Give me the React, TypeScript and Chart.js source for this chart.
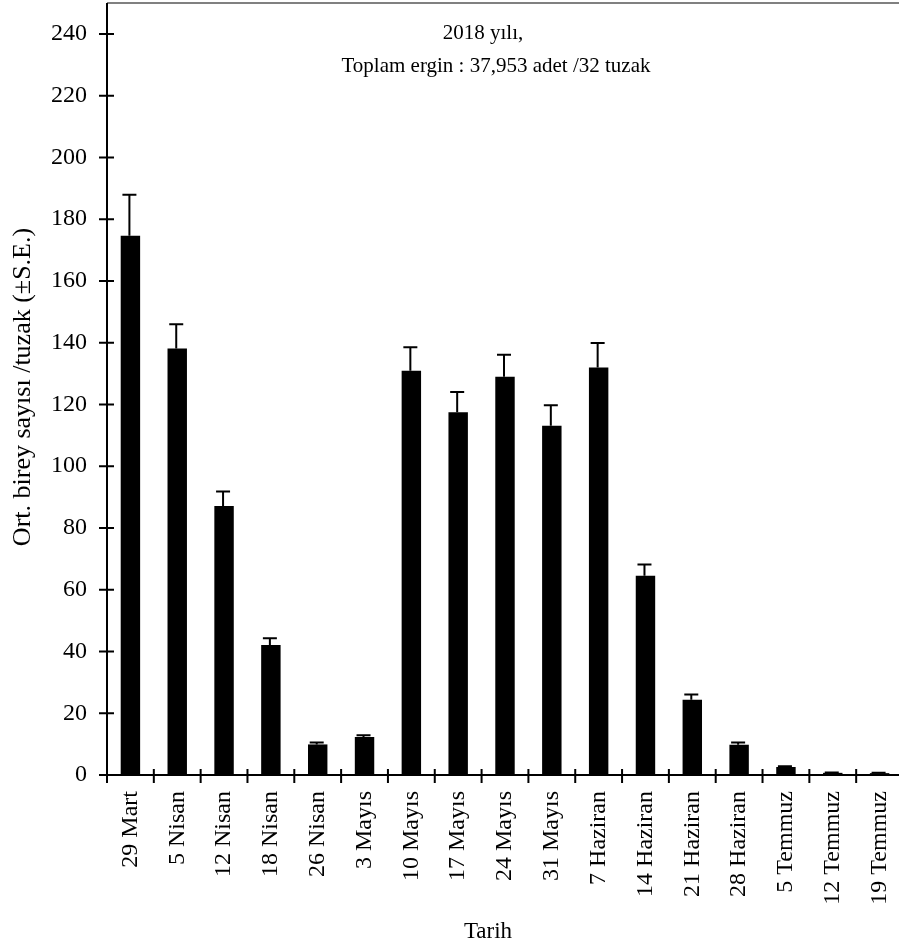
import React, { useEffect, useRef } from 'react';
import { Chart, registerables } from 'chart.js';

Chart.register(...registerables);

const dates = ['29 Mart', '5 Nisan', '12 Nisan', '18 Nisan', '26 Nisan', '3 Mayıs', '10 Mayıs', '17 Mayıs', '24 Mayıs', '31 Mayıs', '7 Haziran', '14 Haziran', '21 Haziran', '28 Haziran', '5 Temmuz', '12 Temmuz', '19 Temmuz'];
const means = [174.6, 138.1, 87.1, 42.1, 9.9, 12.3, 130.9, 117.5, 129.0, 113.1, 132.0, 64.5, 24.4, 9.8, 2.6, 0.7, 0.6];
const standardErrors = [13.3, 7.9, 4.7, 2.2, 0.6, 0.6, 7.6, 6.5, 7.1, 6.6, 7.9, 3.7, 1.7, 0.7, 0.2, 0.1, 0.1];
const yTickValues = [0, 20, 40, 60, 80, 100, 120, 140, 160, 180, 200, 220, 240];
const titleLines = ['2018 yılı,', 'Toplam ergin : 37,953 adet /32 tuzak'];
const yAxisTitle = 'Ort. birey sayısı /tuzak (±S.E.)';
const xAxisTitle = 'Tarih';

const FONT = "'Liberation Serif', 'Times New Roman', serif";

const decorPlugin = {
  id: 'decor',
  afterDatasetsDraw(chart: any) {
    const { ctx, chartArea } = chart;
    const xs = chart.scales.x;
    const ys = chart.scales.y;
    const { left, right, top, bottom } = chartArea;
    ctx.save();
    // error bars
    ctx.strokeStyle = '#000';
    ctx.lineWidth = 2;
    const meta = chart.getDatasetMeta(0);
    meta.data.forEach((bar: any, i: number) => {
      const xc = bar.x - 1;
      const yTop = ys.getPixelForValue(means[i]);
      const yCap = ys.getPixelForValue(means[i] + standardErrors[i]);
      ctx.beginPath();
      ctx.moveTo(xc, yTop);
      ctx.lineTo(xc, yCap);
      ctx.moveTo(xc - 7, yCap);
      ctx.lineTo(xc + 7, yCap);
      ctx.stroke();
    });
    // top border
    ctx.strokeStyle = '#808080';
    ctx.lineWidth = 2;
    ctx.beginPath();
    ctx.moveTo(left, top);
    ctx.lineTo(right, top);
    ctx.stroke();
    // axes
    ctx.strokeStyle = '#000';
    ctx.lineWidth = 2;
    ctx.beginPath();
    ctx.moveTo(left, top);
    ctx.lineTo(left, bottom + 8);
    ctx.moveTo(left - 8, bottom);
    ctx.lineTo(right, bottom);
    // y ticks
    yTickValues.forEach((v) => {
      const py = ys.getPixelForValue(v);
      ctx.moveTo(left - 8, py);
      ctx.lineTo(left + 7, py);
    });
    // x ticks at category boundaries
    for (let i = 1; i < dates.length; i++) {
      const px = (xs.getPixelForValue(i - 1) + xs.getPixelForValue(i)) / 2;
      ctx.moveTo(px, bottom - 6);
      ctx.lineTo(px, bottom + 8);
    }
    ctx.stroke();

    // texts
    ctx.fillStyle = '#000';
    ctx.textAlign = 'center';
    ctx.textBaseline = 'alphabetic';
    ctx.font = `21px ${FONT}`;
    ctx.fillText(titleLines[0], 483, 38.5);
    ctx.fillText(titleLines[1], 496, 71.5);
    ctx.font = `23px ${FONT}`;
    ctx.fillText(xAxisTitle, 488, 938);
    ctx.save();
    ctx.translate(30, (top + bottom) / 2 - 2);
    ctx.rotate(-Math.PI / 2);
    ctx.font = `26px ${FONT}`;
    ctx.fillText(yAxisTitle, 0, 0);
    ctx.restore();
    ctx.restore();
  },
};

export default function App() {
  const ref = useRef<HTMLCanvasElement | null>(null);
  useEffect(() => {
    const canvas = ref.current;
    if (!canvas) return;
    const chart = new Chart(canvas, {
      type: 'bar',
      data: {
        labels: dates,
        datasets: [
          {
            data: means,
            backgroundColor: '#000',
            borderWidth: 0,
            barPercentage: 0.415,
            categoryPercentage: 1,
          },
        ],
      },
      options: {
        responsive: false,
        animation: false,
        devicePixelRatio: 1,
        layout: { padding: { top: 3, left: 0, right: 0, bottom: 0 } },
        plugins: {
          legend: { display: false },
          tooltip: { enabled: false },
          title: { display: false },
        },
        scales: {
          x: {
            grid: { display: false, drawTicks: false },
            border: { display: false },
            ticks: {
              minRotation: 90,
              maxRotation: 90,
              autoSkip: false,
              padding: 16,
              color: '#000',
              font: { family: FONT, size: 24 },
            },
            afterFit(scale: any) {
              scale.height = 169;
              scale.paddingLeft = 0;
              scale.paddingRight = 0;
            },
          },
          y: {
            min: 0,
            max: 250,
            grid: { display: false, drawTicks: false },
            border: { display: false },
            afterBuildTicks(scale: any) {
              scale.ticks = yTickValues.map((v) => ({ value: v }));
            },
            ticks: {
              padding: 20,
              color: '#000',
              font: { family: FONT, size: 24 },
            },
            afterFit(scale: any) {
              scale.width = 107;
              scale.paddingTop = 0;
              scale.paddingBottom = 0;
            },
          },
        },
      },
      plugins: [decorPlugin],
    });
    return () => chart.destroy();
  }, []);
  return (
    <div style={{ position: 'fixed', left: 0, top: 0, width: 899, height: 944, overflow: 'hidden', background: '#fff' }}>
      <canvas ref={ref} width={903} height={944} style={{ display: 'block', width: 903, height: 944 }} />
    </div>
  );
}
